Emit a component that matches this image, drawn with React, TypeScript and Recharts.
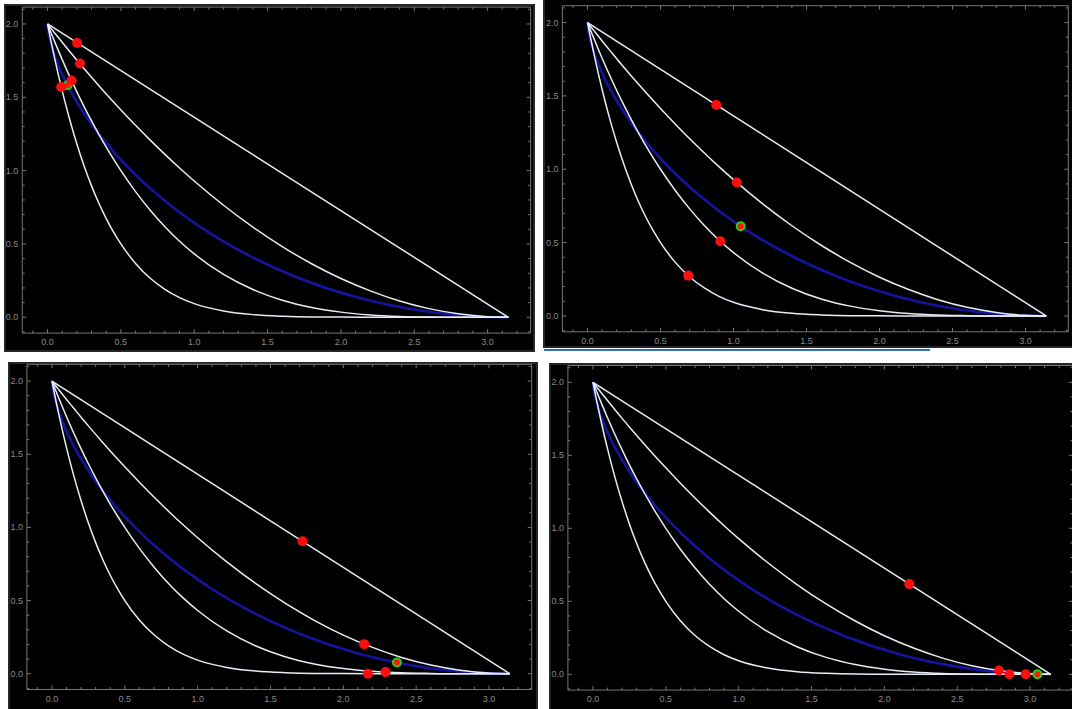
import React from 'react';
import { ComposedChart, Line, Scatter, XAxis, YAxis } from 'recharts';

// shared sample x positions for the three power-like curves
const curveX = [0, 0.025, 0.05, 0.1, 0.15, 0.2, 0.25, 0.3, 0.35, 0.4, 0.45, 0.5, 0.6, 0.7, 0.8, 0.9, 1.0, 1.2, 1.4, 1.6, 1.8, 2.0, 2.2, 2.4, 2.6, 2.8, 3.0, 3.1416];
const upperY = [2, 1.968, 1.937, 1.875, 1.814, 1.753, 1.694, 1.636, 1.579, 1.523, 1.468, 1.414, 1.309, 1.208, 1.111, 1.018, 0.929, 0.764, 0.615, 0.482, 0.365, 0.264, 0.18, 0.111, 0.059, 0.024, 0.004, 0];
const middleY = [2, 1.937, 1.876, 1.757, 1.644, 1.537, 1.435, 1.339, 1.247, 1.16, 1.078, 1.0, 0.857, 0.73, 0.617, 0.518, 0.432, 0.292, 0.189, 0.116, 0.067, 0.035, 0.016, 0.006, 0.002, 0, 0, 0];
const lowerY = [2, 1.876, 1.759, 1.544, 1.352, 1.182, 1.03, 0.896, 0.777, 0.673, 0.581, 0.5, 0.367, 0.266, 0.191, 0.134, 0.093, 0.043, 0.018, 0.007, 0.002, 0.001, 0, 0, 0, 0, 0, 0];

const straightX = [0, 3.1416];
const straightY = [2, 0];

// blue curve
const blueX = [0, 0.0013, 0.0106, 0.0354, 0.0826, 0.1585, 0.268, 0.4146, 0.6004, 0.8262, 1.0907, 1.3915, 1.7245, 2.0845, 2.465, 2.6608, 2.8589, 2.9585, 3.1416];
const blueY = [2, 1.98, 1.921, 1.825, 1.697, 1.54, 1.362, 1.17, 0.971, 0.773, 0.584, 0.412, 0.263, 0.143, 0.058, 0.029, 0.01, 0.004, 0];

// dots per panel
const red1X = [0.202, 0.221, 0.164, 0.093];
const red1Y = [1.871, 1.73, 1.614, 1.57];
const green1X = [0.137];
const green1Y = [1.582];

const red2X = [0.882, 1.023, 0.91, 0.69];
const red2Y = [1.438, 0.91, 0.509, 0.275];
const green2X = [1.049];
const green2Y = [0.611];

const red3X = [1.72, 2.143, 2.29, 2.169];
const red3Y = [0.905, 0.202, 0.011, 0];
const green3X = [2.368];
const green3Y = [0.076];

const red4X = [2.171, 2.786, 2.857, 2.97];
const red4Y = [0.618, 0.026, 0, 0];
const green4X = [3.05];
const green4Y = [0.001];

const xTicks = [-0.1, 0, 0.1, 0.2, 0.3, 0.4, 0.5, 0.6, 0.7, 0.8, 0.9, 1, 1.1, 1.2, 1.3, 1.4, 1.5, 1.6, 1.7, 1.8, 1.9, 2, 2.1, 2.2, 2.3, 2.4, 2.5, 2.6, 2.7, 2.8, 2.9, 3, 3.1, 3.2];
const yTicks = [-0.1, 0, 0.1, 0.2, 0.3, 0.4, 0.5, 0.6, 0.7, 0.8, 0.9, 1, 1.1, 1.2, 1.3, 1.4, 1.5, 1.6, 1.7, 1.8, 1.9, 2, 2.1];
const xMajor = [0, 0.5, 1, 1.5, 2, 2.5, 3];
const xLabels = ['0.0', '0.5', '1.0', '1.5', '2.0', '2.5', '3.0'];
const yMajor = [0, 0.5, 1, 1.5, 2];
const yLabels = ['0.0', '0.5', '1.0', '1.5', '2.0'];

const zip = (xs: number[], ys: number[]) => xs.map((x, i) => ({ x, y: ys[i] }));

const frameColor = '#767676';
const labelColor = '#8a8a8a';
const whiteLine = '#e8ecf5';
const blueLine = '#1414a0';
const font = '"Liberation Sans", Arial, sans-serif';
const xDomain: [number, number] = [-0.172, 3.293];
const yDomain: [number, number] = [-0.108, 2.115];

const isMajor = (v: number) => Math.abs(v * 2 - Math.round(v * 2)) < 1e-6;
const labelOf = (v: number, majors: number[], labels: string[]) => {
  const i = majors.findIndex((m) => Math.abs(m - v) < 1e-6);
  return i >= 0 ? labels[i] : null;
};

const BottomTick = ({ x, y, payload }: any) => {
  const v = payload.value;
  const len = isMajor(v) ? 4 : 2.5;
  const label = labelOf(v, xMajor, xLabels);
  return (
    <g>
      <line x1={x} x2={x} y1={y} y2={y - len} stroke={frameColor} />
      {label && (
        <text x={x} y={y + 12} textAnchor="middle" fill={labelColor} fontSize={9} fontFamily={font}>
          {label}
        </text>
      )}
    </g>
  );
};

const TopTick = ({ x, y, payload }: any) => {
  const len = isMajor(payload.value) ? 4 : 2.5;
  return <line x1={x} x2={x} y1={y} y2={y + len} stroke={frameColor} />;
};

const LeftTick = ({ x, y, payload }: any) => {
  const v = payload.value;
  const len = isMajor(v) ? 4 : 2.5;
  const label = labelOf(v, yMajor, yLabels);
  return (
    <g>
      <line x1={x} x2={x + len} y1={y} y2={y} stroke={frameColor} />
      {label && (
        <text x={x - 4} y={y + 3} textAnchor="end" fill={labelColor} fontSize={9} fontFamily={font}>
          {label}
        </text>
      )}
    </g>
  );
};

const RightTick = ({ x, y, payload }: any) => {
  const len = isMajor(payload.value) ? 4 : 2.5;
  return <line x1={x} x2={x - len} y1={y} y2={y} stroke={frameColor} />;
};

const RedDot = (props: any) => <circle cx={props.cx} cy={props.cy} r={5} fill="#ff0d0d" />;
const GreenDot = (props: any) => (
  <circle cx={props.cx} cy={props.cy} r={4} fill="#ff1a00" stroke="#22d022" strokeWidth={2} />
);

type PanelProps = {
  left: number; top: number; w: number; h: number;
  pl: number; pt: number; pr: number; pb: number;
  red: { x: number; y: number }[];
  green: { x: number; y: number }[];
};

const Panel = ({ left, top, w, h, pl, pt, pr, pb, red, green }: PanelProps) => (
  <div style={{ position: 'absolute', left, top, width: w, height: h, background: '#262626' }}>
    <div style={{ position: 'absolute', left: 2, top: 2, right: 2, bottom: 2, background: '#000' }} />
    <div style={{ position: 'absolute', left: 0, top: 0 }}>
      <ComposedChart width={w} height={h} margin={{ top: 0, right: 0, bottom: 0, left: 0 }}>
        <XAxis xAxisId="b" dataKey="x" type="number" domain={xDomain} allowDataOverflow
          ticks={xTicks} interval={0} height={pb} tickSize={0} tickMargin={0} tickLine={false}
          axisLine={{ stroke: frameColor }} tick={<BottomTick />} />
        <XAxis xAxisId="t" orientation="top" dataKey="x" type="number" domain={xDomain} allowDataOverflow
          ticks={xTicks} interval={0} height={pt} tickSize={0} tickMargin={0} tickLine={false}
          axisLine={{ stroke: frameColor }} tick={<TopTick />} />
        <YAxis yAxisId="l" dataKey="y" type="number" domain={yDomain} allowDataOverflow
          ticks={yTicks} interval={0} width={pl} tickSize={0} tickMargin={0} tickLine={false}
          axisLine={{ stroke: frameColor }} tick={<LeftTick />} />
        <YAxis yAxisId="r" orientation="right" dataKey="y" type="number" domain={yDomain} allowDataOverflow
          ticks={yTicks} interval={0} width={pr} tickSize={0} tickMargin={0} tickLine={false}
          axisLine={{ stroke: frameColor }} tick={<RightTick />} />
        <Line xAxisId="b" yAxisId="l" data={zip(blueX, blueY)} dataKey="y" type="monotone"
          stroke={blueLine} strokeWidth={2.6} dot={false} activeDot={false} isAnimationActive={false} />
        <Line xAxisId="b" yAxisId="l" data={zip(straightX, straightY)} dataKey="y" type="linear"
          stroke={whiteLine} strokeWidth={1.5} dot={false} activeDot={false} isAnimationActive={false} />
        <Line xAxisId="b" yAxisId="l" data={zip(curveX, upperY)} dataKey="y" type="monotone"
          stroke={whiteLine} strokeWidth={1.5} dot={false} activeDot={false} isAnimationActive={false} />
        <Line xAxisId="b" yAxisId="l" data={zip(curveX, middleY)} dataKey="y" type="monotone"
          stroke={whiteLine} strokeWidth={1.5} dot={false} activeDot={false} isAnimationActive={false} />
        <Line xAxisId="b" yAxisId="l" data={zip(curveX, lowerY)} dataKey="y" type="monotone"
          stroke={whiteLine} strokeWidth={1.5} dot={false} activeDot={false} isAnimationActive={false} />
        <Scatter xAxisId="b" yAxisId="l" data={green} dataKey="y" shape={<GreenDot />} isAnimationActive={false} />
        <Scatter xAxisId="b" yAxisId="l" data={red} dataKey="y" shape={<RedDot />} isAnimationActive={false} />
      </ComposedChart>
    </div>
  </div>
);

export default function App() {
  return (
    <div style={{ position: 'fixed', left: 0, top: 0, width: 1072, height: 709, background: '#fff', overflow: 'hidden' }}>
      <Panel left={4} top={4} w={531} h={348} pl={18.3} pt={3.1} pr={4.4} pb={18.9}
        red={zip(red1X, red1Y)} green={zip(green1X, green1Y)} />
      <Panel left={543} top={-2} w={531} h={350} pl={19.4} pt={7.7} pr={5.7} pb={16.2}
        red={zip(red2X, red2Y)} green={zip(green2X, green2Y)} />
      <div style={{ position: 'absolute', left: 544, top: 349, width: 386, height: 2, background: '#2f6fc4' }} />
      <Panel left={8} top={362} w={530} h={349} pl={18.9} pt={2.3} pr={6.3} pb={21.5}
        red={zip(red3X, red3Y)} green={zip(green3X, green3Y)} />
      <Panel left={549} top={363} w={525} h={348} pl={18.9} pt={2.5} pr={1.2} pb={20.9}
        red={zip(red4X, red4Y)} green={zip(green4X, green4Y)} />
    </div>
  );
}
